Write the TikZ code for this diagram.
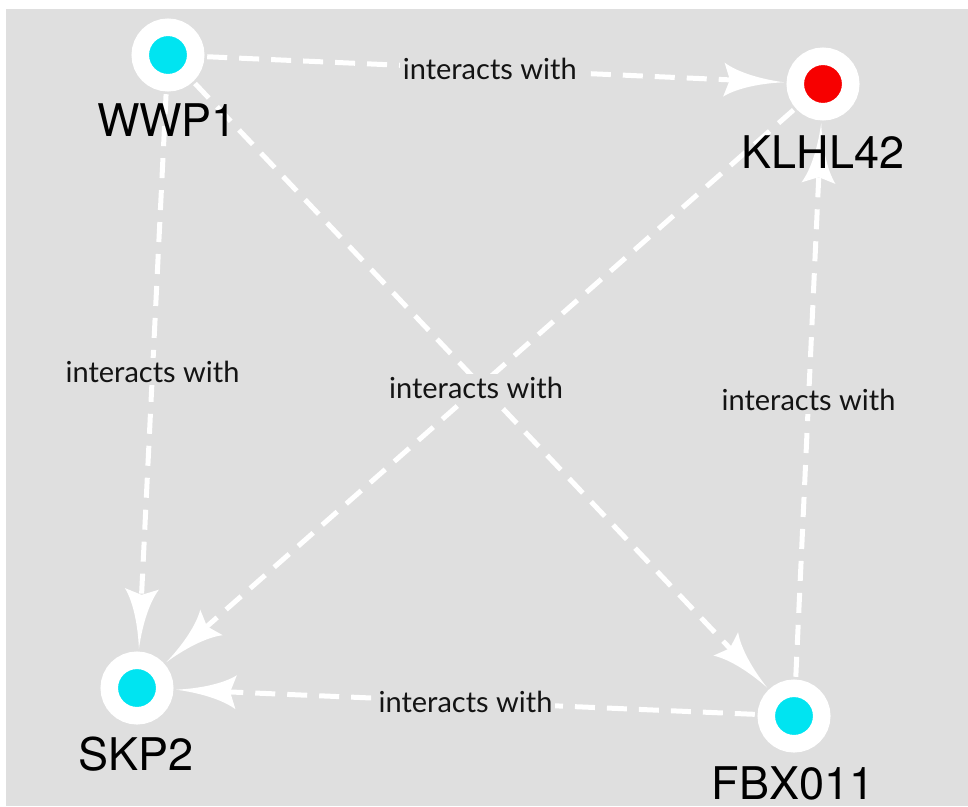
\documentclass[tikz,border=0pt]{standalone}
\usepackage{fontspec}
\newfontfamily\edgefont{Lato}
\newfontfamily\namefont{TeX Gyre Heros}
\usetikzlibrary{arrows.meta}
\definecolor{bggray}{HTML}{DFDFDF}
\definecolor{nodecyan}{HTML}{00E4F1}
\definecolor{nodered}{HTML}{F70000}

\pgfdeclarearrow{
  name = Swoosh,
  setup code = {
    \pgfarrowssettipend{0pt}
    \pgfarrowssetlineend{-50pt}
    \pgfarrowssetvisualbackend{-60pt}
    \pgfarrowssetbackend{-60pt}
    \pgfarrowshullpoint{0pt}{0pt}
    \pgfarrowshullpoint{-60pt}{17pt}
    \pgfarrowshullpoint{-60pt}{-17pt}
  },
  drawing code = {
    \pgfpathmoveto{\pgfpointorigin}
    \pgfpathcurveto{\pgfpoint{-22pt}{2pt}}{\pgfpoint{-46pt}{7.5pt}}{\pgfpoint{-60pt}{17pt}}
    \pgfpathlineto{\pgfpoint{-54pt}{0pt}}
    \pgfpathlineto{\pgfpoint{-60pt}{-17pt}}
    \pgfpathcurveto{\pgfpoint{-46pt}{-7.5pt}}{\pgfpoint{-22pt}{-2pt}}{\pgfpointorigin}
    \pgfpathclose
    \pgfusepathqfill
  }
}

\tikzset{
  protein/.style={circle, draw=white, line width=17.5pt, minimum size=55.5pt, inner sep=0pt, outer sep=11.5pt},
  namelabel/.style={font=\namefont\fontsize{45}{50}\selectfont, inner sep=0pt, text=black},
  link/.style={draw=white, line width=5pt, dash pattern=on 20pt off 12pt, -Swoosh},
  linklabel/.style={font=\edgefont\fontsize{29}{34}\selectfont, fill=bggray, inner sep=3pt, text=black!92}
}

\begin{document}
\begin{tikzpicture}[x=1pt, y=-1pt]
  \useasboundingbox (0,0) rectangle (968,806);
  \fill[white] (0,0) rectangle (968,806);
  \fill[bggray] (6,9) rectangle (968,806);

  \node[protein, fill=nodecyan] (wwp1) at (168,55) {};
  \node[protein, fill=nodered] (klhl42) at (823,84) {};
  \node[protein, fill=nodecyan] (skp2) at (137,688) {};
  \node[protein, fill=nodecyan] (fbx011) at (794,716) {};

  \draw[link] (wwp1) -- node[linklabel, pos=0.49] (l1) {interacts with} (klhl42);
  \draw[link] (wwp1) -- node[linklabel] (l2) {interacts with} (skp2);
  \draw[link] (klhl42) -- (skp2);
  \draw[link] (wwp1) -- node[linklabel, xshift=-5pt, yshift=-2.5pt] (l3) {interacts with} (fbx011);
  \draw[link] (fbx011) -- node[linklabel] (l4) {interacts with} (klhl42);
  \draw[link] (fbx011) -- node[linklabel] (l5) {interacts with} (skp2);

  \node[namelabel] (wwp1name) at (167,120) {WWP1};
  \node[namelabel] (klhl42name) at (823,152) {KLHL42};
  \node[namelabel] (skp2name) at (136,754) {SKP2};
  \node[namelabel] (fbx011name) at (793,783) {FBX011};
\end{tikzpicture}
\end{document}
